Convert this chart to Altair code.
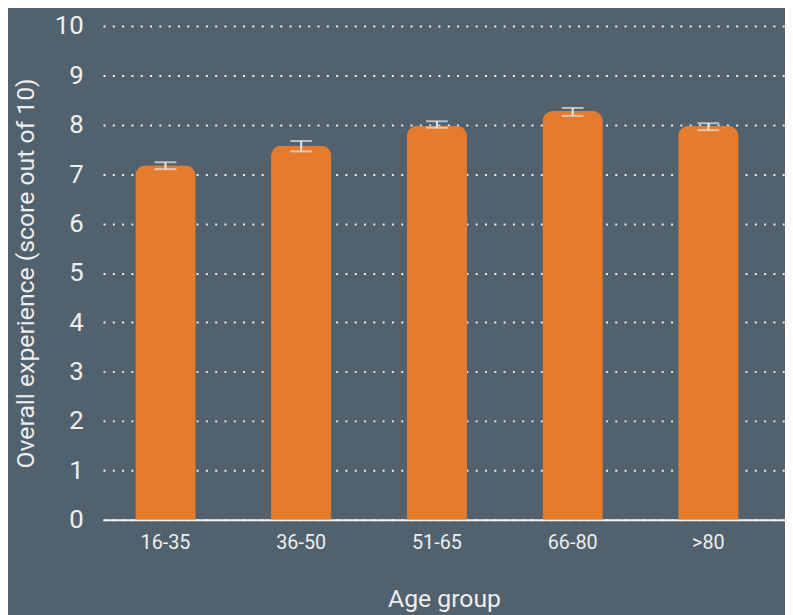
import altair as alt
import pandas as pd

age_groups = ["16-35", "36-50", "51-65", "66-80", ">80"]
scores = [7.18, 7.58, 7.98, 8.28, 7.98]
err_low = [7.10, 7.46, 7.94, 8.18, 7.89]
err_high = [7.24, 7.67, 8.07, 8.34, 8.03]

df = pd.DataFrame({"age": age_groups, "score": scores, "lo": err_low, "hi": err_high})

BG = "#51616e"
FONT = "Roboto"
TXT = "#eeeeee"

x = alt.X(
    "age:N",
    sort=age_groups,
    title="Age group",
    scale=alt.Scale(paddingInner=0.555, paddingOuter=0.29, align=0.41),
    axis=alt.Axis(
        labelAngle=0, labelFontSize=20, labelColor=TXT, labelPadding=13,
        titleFontSize=25, titleColor=TXT, titleFontWeight="normal", titlePadding=35,
        domainColor="#f2f2f2", domainWidth=2, ticks=False, grid=False,
        labelFont=FONT, titleFont=FONT,
    ),
)
y = alt.Y(
    "score:Q",
    title="Overall experience (score out of 10)",
    scale=alt.Scale(domain=[0, 10], nice=False),
    axis=alt.Axis(
        values=list(range(0, 11)), labelFontSize=26, labelColor=TXT, labelPadding=20,
        titleFontSize=25, titleColor=TXT, titleFontWeight="normal", titlePadding=16,
        domain=False, ticks=False, grid=True, gridColor="#f0f0f0", gridDash=[2, 7.4],
        gridWidth=2, labelFont=FONT, titleFont=FONT,
    ),
)

bars = alt.Chart(df).mark_bar(
    color="#e57b2c", cornerRadiusTopLeft=11, cornerRadiusTopRight=11
).encode(x=x, y=y)

rule = alt.Chart(df).mark_rule(color="#e8e8e8", strokeWidth=2).encode(
    x=alt.X("age:N", sort=age_groups), y="lo:Q", y2="hi:Q"
)
cap_lo = alt.Chart(df).mark_tick(color="#e8e8e8", thickness=2, size=22).encode(
    x=alt.X("age:N", sort=age_groups), y="lo:Q"
)
cap_hi = alt.Chart(df).mark_tick(color="#e8e8e8", thickness=2, size=22).encode(
    x=alt.X("age:N", sort=age_groups), y="hi:Q"
)

chart = (
    alt.layer(bars, rule, cap_lo, cap_hi)
    .properties(
        width=689, height=499,
        autosize=alt.AutoSizeParams(type="none"),
        padding={"left": 96, "top": 15, "right": 0, "bottom": 93},
        background=BG,
    )
    .configure_view(stroke=None)
)

chart.save("out.html", embed_options={"renderer": "svg", "actions": False})
